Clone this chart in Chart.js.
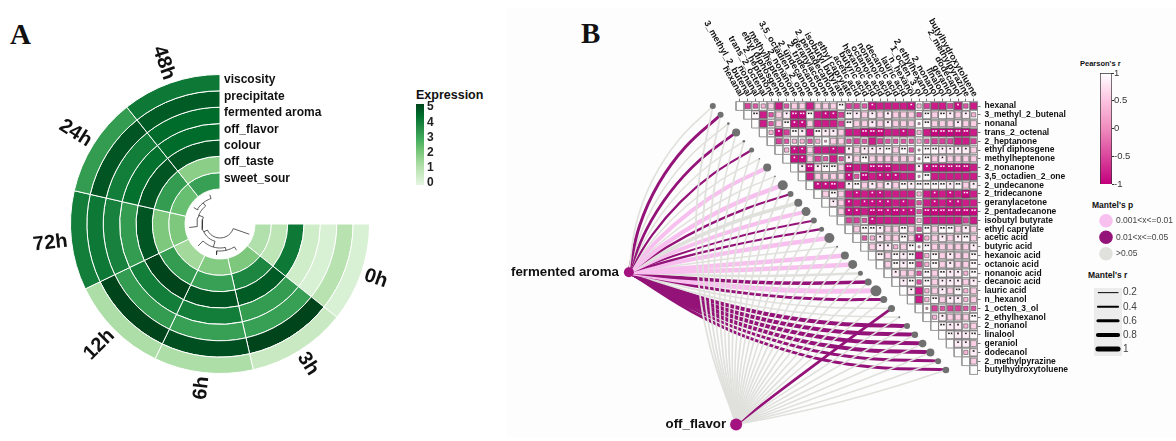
<!DOCTYPE html>
<html>
<head>
<meta charset="utf-8">
<script src="https://cdn.jsdelivr.net/npm/chart.js@4"></script>
<style>
    body { margin: 0; width: 1176px; height: 441px; background: #fff; overflow: hidden; position: relative; font-family: 'Liberation Sans', sans-serif; color: #111; }
    canvas { position: absolute; }
    .txt { position: absolute; white-space: nowrap; font-weight: bold; line-height: 1; }
    .letter { font-family: 'Liberation Serif', serif; font-size: 29px; }
    #panelB { position: absolute; left: 507px; top: 8px; width: 669px; height: 430px; background: #fdfdfd; }
</style>
</head>
<body>
<div id="panelB"></div>
<div class="txt letter" style="left:10px;top:20px">A</div>
<div class="txt letter" style="left:581px;top:19px">B</div>
<div class="txt" style="left:416px;top:89px;font-size:12.5px">Expression</div>
<div class="txt" style="left:1080px;top:60px;font-size:7.5px">Pearson's r</div>
<div class="txt" style="left:1092px;top:201px;font-size:8.5px">Mantel's p</div>
<div class="txt" style="left:1088px;top:271px;font-size:8.5px">Mantel's r</div>

<canvas id="ringChart" width="400" height="400" style="left:20px;top:24px"></canvas>
<canvas id="dendroChart" width="80" height="80" style="left:180px;top:184px"></canvas>
<canvas id="expressionChart" width="40" height="112" style="left:408px;top:89px"></canvas>
<canvas id="linkChart" width="480" height="441" style="left:505px;top:0"></canvas>
<canvas id="heatChart" width="390" height="395" style="left:690px;top:0"></canvas>
<canvas id="pearsonChart" width="80" height="142" style="left:1090px;top:58px"></canvas>
<canvas id="mantelPChart" width="86" height="70" style="left:1090px;top:202px"></canvas>
<canvas id="mantelRChart" width="60" height="88" style="left:1094px;top:278px"></canvas>

<script>
// panel A
var timePoints = ['0h', '3h', '6h', '12h', '72h', '24h', '48h'];
var attributes = ['viscosity', 'precipitate', 'fermented aroma', 'off_flavor', 'colour', 'off_taste', 'sweet_sour'];
var viscosity = [0.3, 0.7, 1.2, 1.2, 3.9, 3.2, 4.0];
var precipitate = [1.0, 5.0, 4.8, 5.0, 4.0, 4.7, 4.6];
var fermentedAroma = [0.3, 3.1, 3.1, 3.2, 3.8, 3.9, 4.3];
var offFlavor = [0.5, 3.2, 3.9, 3.9, 3.2, 4.2, 4.3];
var colour = [4.0, 4.6, 4.7, 5.0, 4.7, 4.7, 4.7];
var offTaste = [0.9, 3.7, 3.1, 3.2, 2.0, 3.2, 1.8];
var sweetSour = [1.1, 2.0, 1.9, 1.4, 2.0, 2.3, 3.1];
var expressionTicks = [0, 1, 2, 3, 4, 5];

// dendrogram merges, in sector positions and radii
var dendroA = [5, 4, 1, 3, 4.75, 0];
var dendroB = [6, 5.5, 2, 1.5, 2.25, 3.5];
var dendroR = [27, 23, 27, 24, 18, 14];
var dendroAr = [31, 31, 31, 31, 23, 31];
var dendroBr = [31, 27, 31, 27, 24, 18];

// panel B
var compounds = ['hexanal', '3_methyl_2_butenal', 'nonanal', 'trans_2_octenal', '2_heptanone', 'ethyl diphosgene', 'methylheptenone', '2_nonanone', '3,5_octadien_2_one', '2_undecanone', '2_tridecanone', 'geranylacetone', '2_pentadecanone', 'isobutyl butyrate', 'ethyl caprylate', 'acetic acid', 'butyric acid', 'hexanoic acid', 'octanoic acid', 'nonanoic acid', 'decanoic acid', 'lauric acid', 'n_hexanol', '1_octen_3_ol', '2_ethylhexanol', '2_nonanol', 'linalool', 'geraniol', 'dodecanol', '2_methylpyrazine', 'butylhydroxytoluene'];

// upper triangle of Pearson's r, row i holds columns i+1 to 30
var pearsonRows = [
    [-.55,-.4,.35,.6,-.8,-.4,.6,.6,-.8,.6,.6,.6,.95,-.55,-.55,-.4,-.9,-.8,-.8,-.8,-.8,-.9,.35,-.55,-.8,-.8,-.55,-.9,-.4,-.8],
    [.95,-.8,-.4,.6,.85,-.97,-.97,.95,-.8,-.9,-.9,-.55,.95,.85,.6,.85,.6,.85,.6,.6,.6,-.4,.95,.6,.95,.85,.6,.85,.35],
    [-.8,-.4,.6,.95,-.9,-.9,.6,-.8,-.8,-.8,-.55,.95,.6,.6,.85,.6,.85,.6,.6,.6,.1,.95,.6,.6,.6,.85,.6,.6],
    [.35,-.9,-.55,.95,.85,-.8,.95,.85,.85,.6,-.8,-.8,-.97,-.97,-.97,-.8,-.8,-.9,-.8,.35,-.8,-.97,-.97,-.97,-.97,-.97,-.8],
    [-.55,-.4,.35,.35,-.4,.35,.1,.6,.6,-.4,-.55,-.4,-.8,-.55,-.4,-.4,-.4,-.4,.35,-.4,-.55,-.55,-.55,-.8,-.8,-.55],
    [.35,-.9,-.9,.6,-.8,-.8,-.9,-.8,.85,.6,.85,.85,.85,.95,.6,.95,-.4,.1,.95,.95,.85,.85,.85,.85,.6],
    [-.9,-.9,.6,-.55,-.4,-.8,-.4,.85,.6,.95,.6,.6,.6,.6,.6,.6,.1,.95,.6,.85,.6,.6,.6,.6],
    [.85,-.97,.85,.95,.95,.6,-.97,-.8,-.8,-.97,-.97,-.97,-.8,-.8,-.8,.85,-.9,-.97,-.97,-.97,-.97,-.97,-.8],
    [-.8,.6,.6,.6,.6,-.9,-.4,-.97,-.8,-.9,-.9,-.9,-.8,-.8,.1,.95,-.8,-.8,-.8,-.8,-.8,-.8],
    [-.9,-.9,-.97,-.8,.85,.95,.6,.85,.6,.85,.6,.95,.85,.95,.95,.95,.95,.85,.95,.6,.85],
    [.6,.95,.6,-.8,-.9,-.8,-.9,-.9,-.8,-.8,-.8,-.8,.35,-.8,-.9,-.8,-.9,-.8,-.97,-.8],
    [.85,.6,-.9,-.8,-.9,-.9,-.9,-.9,-.8,-.9,-.8,-.4,-.8,-.9,-.8,-.9,-.9,-.8,-.8],
    [.6,-.9,-.9,-.8,-.97,-.97,-.9,-.97,-.9,-.9,-.4,-.97,-.97,-.97,-.97,-.97,-.97,-.97],
    [-.55,-.55,-.4,-.9,-.8,-.8,-.8,-.8,-.8,.35,-.8,-.8,-.8,-.8,-.8,-.55,-.8],
    [.6,.95,.95,.85,.6,.6,.95,.6,-.4,.95,.6,.95,.95,.6,.85,.6],
    [-.4,.35,.85,.6,.6,.95,.6,-.9,.35,.6,.85,.6,.85,.95,.6],
    [.6,.85,.85,.35,.6,.95,.1,.95,.6,.6,.6,.6,.6,.85],
    [.95,.6,.95,.85,.95,-.8,.35,.95,.6,.85,.6,.6,.95],
    [.6,.95,.85,.95,-.55,.35,.95,.6,.85,.6,.6,.95],
    [.85,.6,.6,-.4,.95,.6,.95,.85,.85,.35,.95],
    [.85,.95,-.4,.95,.6,.85,.85,.85,.6,.85],
    [.85,-.8,.35,.6,.85,.6,.95,.35,.6],
    [-.8,.35,.95,.6,.85,.85,.35,.6],
    [.1,-.55,-.4,-.55,-.55,-.4,-.4],
    [.35,.85,.6,.6,.6,.95],
    [.95,.85,.85,.35,.6],
    [.95,.85,.85,.95],
    [.85,.85,.6],
    [.35,.85],
    [.6],
    []
];

// Mantel test per compound, p class is an index into mantelPLabels
var mantelPLabels = ['0.001<x<=0.01', '0.01<x<=0.05', '>0.05'];
var mantelRLabels = [0.2, 0.4, 0.6, 0.8, 1];
var aromaP = [2,1,2,1,2,1,2,0,2,0,1,2,0,1,1,0,2,0,0,2,1,0,1,2,2,1,1,1,1,1,1];
var aromaR = [.32,.6,.32,.55,.3,.45,.3,.8,.3,.9,.45,.75,.8,.4,.45,.9,.32,.9,.9,.5,.7,1,.6,.32,.32,.8,.8,.8,.8,.6,.6];
var flavorP = [2,2,2,2,2,2,2,2,2,2,2,2,2,2,2,2,2,2,2,2,2,2,2,1,2,2,2,2,2,2,2];
var flavorR = [.36,.36,.36,.32,.36,.32,.36,.32,.32,.36,.32,.32,.36,.32,.32,.36,.32,.32,.36,.32,.32,.36,.32,.55,.32,.32,.32,.32,.32,.32,.32];
var nodeSizes = [3,3,1.3,4,1.3,2.5,.8,4,.8,5,3,4,4.5,3,2.5,5,1,4,4.5,2.5,3.5,5.5,3.5,3.5,1,3,3.3,3.8,4,3,3.3];
var sourceNames = ['fermented aroma', 'off_flavor'];
var sourceX = [-14.3, -0.5];
var sourceY = [18.9, 36.2];

var pearsonTicks = [-1, -0.5, 0, 0.5, 1];

Chart.defaults.animation = false;
Chart.defaults.font.family = "'Liberation Sans', sans-serif";
Chart.defaults.plugins.legend.display = false;
Chart.defaults.plugins.tooltip.enabled = false;
Chart.defaults.responsive = false;
Chart.defaults.maintainAspectRatio = false;
Chart.defaults.layout.autoPadding = false;

var COL_W = 7.77;
var ROW_H = 8.8;
var HEAT_X = 740;
var HEAT_Y = 106;
var P_COLORS = ['#f7c0ee', '#941378', '#e0e0dc'];
var GREENS = ['#e5f5e0', '#c7e9c0', '#a1d99b', '#74c476', '#41ab5d', '#238b45', '#006d2c', '#00441b'];
var PEARSON_STOPS = [[-1, [196, 0, 124]], [0, [240, 140, 190]], [0.5, [252, 195, 224]], [1, [255, 255, 255]]];

var greenFor = function (value) {
    var pos = value / 5 * (GREENS.length - 1);
    var i = Math.min(Math.floor(pos), GREENS.length - 2);
    var from = parseInt(GREENS[i].slice(1), 16);
    var to = parseInt(GREENS[i + 1].slice(1), 16);
    var t = pos - i;
    var mix = function (shift) {
        return Math.round(((from >> shift) & 255) * (1 - t) + ((to >> shift) & 255) * t);
    };
    return 'rgb(' + mix(16) + ',' + mix(8) + ',' + mix(0) + ')';
};

var pearsonColor = function (r) {
    for (var i = 0; i < PEARSON_STOPS.length - 1; i++) {
        var a = PEARSON_STOPS[i];
        var b = PEARSON_STOPS[i + 1];
        if (r <= b[0]) {
            var t = (r - a[0]) / (b[0] - a[0]);
            return 'rgb(' + a[1].map(function (c, k) { return Math.round(c + (b[1][k] - c) * t); }).join(',') + ')';
        }
    }
    return '#fff';
};

// sector labels and ring labels for the circular heatmap
var ringLabels = {
    id: 'ringLabels',
    afterDraw: function (chart) {
        var ctx = chart.ctx;
        ctx.save();
        ctx.fillStyle = '#111';
        ctx.font = "bold 20px 'Liberation Sans'";
        ctx.textBaseline = 'middle';
        chart.getDatasetMeta(0).data.forEach(function (arc, i) {
            var angle = (arc.startAngle + arc.endAngle) / 2;
            var flip = Math.cos(angle) < 0;
            ctx.save();
            ctx.translate(arc.x + (arc.outerRadius + 4) * Math.cos(angle), arc.y + (arc.outerRadius + 4) * Math.sin(angle));
            ctx.rotate(flip ? angle + Math.PI : angle);
            ctx.textAlign = flip ? 'right' : 'left';
            ctx.fillText(timePoints[i], 0, 0);
            ctx.restore();
        });
        ctx.font = "bold 12px 'Liberation Sans'";
        ctx.textAlign = 'left';
        attributes.forEach(function (name, i) {
            var arc = chart.getDatasetMeta(i).data[6];
            ctx.fillText(name, arc.x + 4, arc.y - (arc.innerRadius + arc.outerRadius) / 2 - 2.5);
        });
        ctx.restore();
    }
};

var ringRows = [viscosity, precipitate, fermentedAroma, offFlavor, colour, offTaste, sweetSour];

new Chart(document.getElementById('ringChart'), {
    type: 'doughnut',
    data: {
        labels: timePoints,
        datasets: ringRows.map(function (row, i) {
            return {
                label: attributes[i],
                data: row.map(function () { return 1; }),
                backgroundColor: row.map(greenFor),
                borderColor: '#fff',
                borderWidth: 1,
                borderAlign: 'center'
            };
        })
    },
    options: {
        rotation: 90,
        circumference: 270,
        cutout: 35,
        layout: { padding: 50 }
    },
    plugins: [ringLabels]
});

// dendrogram in the hole of the ring chart
var polar = function (pos, r) {
    var a = (19.29 + 38.57 * pos) * Math.PI / 180;
    return { x: r * Math.cos(a), y: -r * Math.sin(a) };
};

var dendroPoints = [];
dendroR.forEach(function (r, m) {
    var a = dendroA[m];
    var b = dendroB[m];
    dendroPoints.push(polar(a, dendroAr[m]));
    for (var k = 0; k <= 12; k++) {
        dendroPoints.push(polar(a + (b - a) * k / 12, r));
    }
    dendroPoints.push(polar(b, dendroBr[m]));
    dendroPoints.push({ x: NaN, y: NaN });
});

new Chart(document.getElementById('dendroChart'), {
    type: 'scatter',
    data: {
        datasets: [{
            data: dendroPoints,
            showLine: true,
            borderColor: '#333',
            borderWidth: 0.8,
            pointRadius: 0
        }]
    },
    options: {
        scales: {
            x: { display: false, bounds: 'data', min: -40, max: 40 },
            y: { display: false, bounds: 'data', min: -40, max: 40 }
        }
    }
});

// vertical gradient for the colour bars
var barGradient = function (context, stops) {
    var area = context.chart.chartArea;
    if (!area) {
        return null;
    }
    var gradient = context.chart.ctx.createLinearGradient(0, area.bottom, 0, area.top);
    stops.forEach(function (s) {
        gradient.addColorStop(s[0], s[1]);
    });
    return gradient;
};

new Chart(document.getElementById('expressionChart'), {
    type: 'bar',
    data: {
        labels: ['Expression'],
        datasets: [{
            data: [[-0.13, 5.2]],
            barPercentage: 1,
            categoryPercentage: 1,
            backgroundColor: function (context) {
                return barGradient(context, GREENS.map(function (c, i) { return [i / (GREENS.length - 1), c]; }));
            }
        }]
    },
    options: {
        layout: { padding: { left: 8, top: 15, bottom: 16 } },
        scales: {
            x: { display: false },
            y: {
                position: 'right',
                bounds: 'data',
                min: -0.13,
                max: 5.2,
                afterBuildTicks: function (scale) {
                    scale.ticks = expressionTicks.map(function (v) { return { value: v }; });
                },
                afterFit: function (scale) { scale.width = 24; },
                grid: { drawOnChartArea: false, drawTicks: false },
                border: { display: false },
                ticks: { autoSkip: false, padding: 3, color: '#222', font: { size: 12, weight: 'bold' } }
            }
        }
    }
});

// links between the two sensory traits and every compound
var sourceLabels = {
    id: 'sourceLabels',
    afterDraw: function (chart) {
        var ctx = chart.ctx;
        ctx.save();
        ctx.fillStyle = '#111';
        ctx.font = "bold 13.3px 'Liberation Sans'";
        ctx.textAlign = 'right';
        ctx.textBaseline = 'middle';
        sourceNames.forEach(function (name, i) {
            ctx.fillText(name, chart.scales.x.getPixelForValue(sourceX[i]) - 10, chart.scales.y.getPixelForValue(sourceY[i]));
        });
        ctx.restore();
    }
};

var nodeX = function (j) { return j - 3.5; };

// a point along a link, pushed sideways so that the line bows
var bowPoint = function (fromX, fromY, j, bow, t) {
    var dx = (nodeX(j) - fromX) * COL_W;
    var dy = (j - fromY) * ROW_H;
    var push = bow * 4 * t * (1 - t);
    return {
        x: fromX + (nodeX(j) - fromX) * t + dy * push / COL_W,
        y: fromY + (j - fromY) * t - dx * push / ROW_H
    };
};

var linkSets = function (src, pClass, rValue, bowAt, drawOrder) {
    return pClass.map(function (p, j) {
        var fromX = sourceX[src];
        var fromY = sourceY[src];
        return {
            data: [
                { x: fromX, y: fromY },
                bowPoint(fromX, fromY, j, bowAt(j), 0.25),
                bowPoint(fromX, fromY, j, bowAt(j), 0.5),
                bowPoint(fromX, fromY, j, bowAt(j), 0.75),
                { x: nodeX(j), y: j }
            ],
            showLine: true,
            tension: 0.4,
            borderColor: P_COLORS[p],
            borderWidth: rValue[j] * 5,
            borderCapStyle: 'butt',
            pointRadius: 0,
            order: drawOrder
        };
    });
};

var linkDatasets = linkSets(0, aromaP, aromaR, function (j) { return 0.11 - 0.0065 * j; }, 5)
    .concat(linkSets(1, flavorP, flavorR, function (j) { return 0.085 - 0.0035 * j; }, 4));

linkDatasets.push({
    data: compounds.map(function (name, j) { return { x: nodeX(j), y: j }; }),
    pointRadius: nodeSizes,
    pointBackgroundColor: '#707070',
    pointBorderWidth: 0,
    order: 1
});
linkDatasets.push({
    data: sourceX.map(function (x, i) { return { x: x, y: sourceY[i] }; }),
    pointRadius: [5, 6],
    pointBackgroundColor: '#a3127f',
    pointBorderWidth: 0,
    order: 1
});

new Chart(document.getElementById('linkChart'), {
    type: 'scatter',
    data: { datasets: linkDatasets },
    options: {
        scales: {
            x: { display: false, bounds: 'data', min: (505 - HEAT_X) / COL_W, max: (985 - HEAT_X) / COL_W },
            y: { display: false, bounds: 'data', reverse: true, min: (0 - HEAT_Y) / ROW_H, max: (441 - HEAT_Y) / ROW_H }
        }
    },
    plugins: [sourceLabels]
});

// correlation triangle
var gridPoints = [];
var squares = [];
var lightStars = [];
var darkStars = [];
var gap = { x: NaN, y: NaN };
compounds.forEach(function (name, i) {
    gridPoints.push({ x: i - 0.5, y: i - 0.5 }, { x: 30.5, y: i - 0.5 }, gap);
    gridPoints.push({ x: i - 0.5, y: i + 0.5 }, { x: 30.5, y: i + 0.5 }, gap);
    gridPoints.push({ x: i - 0.5, y: -0.5 }, { x: i - 0.5, y: i + 0.5 }, gap);
    gridPoints.push({ x: i + 0.5, y: -0.5 }, { x: i + 0.5, y: i + 0.5 }, gap);
    pearsonRows[i].forEach(function (r, k) {
        var j = i + 1 + k;
        squares.push({ x: j, y: i, r: r });
        var target = r < 0 ? lightStars : darkStars;
        if (Math.abs(r) >= 0.95) {
            target.push({ x: j - 0.17, y: i - 0.16 }, { x: j + 0.17, y: i - 0.16 });
        } else if (Math.abs(r) >= 0.85) {
            target.push({ x: j, y: i - 0.16 });
        }
    });
});

var columnLabels = {
    id: 'columnLabels',
    afterDraw: function (chart) {
        var ctx = chart.ctx;
        var x = chart.scales.x;
        ctx.save();
        ctx.fillStyle = '#111';
        ctx.font = "bold 9px 'Liberation Sans'";
        ctx.textAlign = 'right';
        ctx.textBaseline = 'middle';
        compounds.forEach(function (name, j) {
            ctx.save();
            ctx.translate(x.getPixelForValue(j) + 1.5, 96);
            ctx.rotate(Math.PI / 3);
            ctx.fillText(name, 0, 0);
            ctx.restore();
        });
        ctx.restore();
    }
};

var indexTicks = function (scale) {
    scale.ticks = compounds.map(function (name, i) { return { value: i }; });
};

new Chart(document.getElementById('heatChart'), {
    type: 'scatter',
    data: {
        datasets: [
            { data: darkStars, pointStyle: 'star', pointRadius: 0.9, pointBorderColor: '#111', pointBorderWidth: 0.6, order: 0 },
            { data: lightStars, pointStyle: 'star', pointRadius: 0.9, pointBorderColor: '#fff', pointBorderWidth: 0.6, order: 0 },
            {
                data: squares,
                pointStyle: 'rect',
                pointRadius: squares.map(function (s) { return 8 * Math.pow(Math.abs(s.r), 0.6) / 2 / Math.SQRT1_2; }),
                pointBackgroundColor: squares.map(function (s) { return pearsonColor(s.r); }),
                pointBorderColor: '#555',
                pointBorderWidth: 0.6,
                order: 1
            },
            { data: gridPoints, showLine: true, spanGaps: false, borderColor: '#999', borderWidth: 1, pointRadius: 0, clip: false, order: 2 }
        ]
    },
    options: {
        layout: { padding: { left: 46, top: 98.6, bottom: 20.6 } },
        scales: {
            x: {
                position: 'top',
                bounds: 'data',
                min: -0.5,
                max: 30.5,
                afterBuildTicks: indexTicks,
                afterFit: function (scale) { scale.height = 3; },
                border: { display: false },
                grid: { drawOnChartArea: false, tickLength: 3, color: '#777' },
                ticks: { display: false, autoSkip: false }
            },
            y: {
                position: 'right',
                bounds: 'data',
                reverse: true,
                min: -0.5,
                max: 30.5,
                afterBuildTicks: indexTicks,
                afterFit: function (scale) { scale.width = 102.5; },
                border: { display: false },
                grid: { drawOnChartArea: false, tickLength: 3, color: '#777' },
                ticks: {
                    autoSkip: false,
                    padding: 4,
                    color: '#111',
                    font: { size: 8.5, weight: 'bold' },
                    callback: function (value) { return compounds[value]; }
                }
            }
        }
    },
    plugins: [columnLabels]
});

// legends of panel B
new Chart(document.getElementById('pearsonChart'), {
    type: 'bar',
    data: {
        labels: ["Pearson's r"],
        datasets: [{
            data: [[-1, 1]],
            barPercentage: 1,
            categoryPercentage: 1,
            borderColor: '#333',
            borderWidth: 1,
            backgroundColor: function (context) {
                return barGradient(context, PEARSON_STOPS.map(function (s) {
                    return [(s[0] + 1) / 2, 'rgb(' + s[1].join(',') + ')'];
                }));
            }
        }]
    },
    options: {
        layout: { padding: { left: 10, top: 15, bottom: 16 } },
        scales: {
            x: { display: false },
            y: {
                position: 'right',
                bounds: 'data',
                min: -1,
                max: 1,
                afterBuildTicks: function (scale) {
                    scale.ticks = pearsonTicks.map(function (v) { return { value: v }; });
                },
                afterFit: function (scale) { scale.width = 58; },
                border: { display: false },
                grid: { drawOnChartArea: false, tickLength: 2, color: '#333' },
                ticks: {
                    autoSkip: false,
                    padding: 0,
                    color: '#333',
                    font: { size: 9.5 },
                    callback: function (value) { return String(value); }
                }
            }
        }
    }
});

new Chart(document.getElementById('mantelPChart'), {
    type: 'scatter',
    data: {
        datasets: [{
            data: mantelPLabels.map(function (label, i) { return { x: 0, y: i }; }),
            pointRadius: 6.8,
            pointBorderWidth: 0,
            pointBackgroundColor: P_COLORS,
            clip: false
        }]
    },
    options: {
        layout: { padding: { left: 8, top: 10.5, bottom: 10 } },
        scales: {
            x: { display: false, bounds: 'data', min: -1, max: 1 },
            y: {
                position: 'right',
                bounds: 'data',
                reverse: true,
                min: -0.5,
                max: 2.5,
                afterBuildTicks: function (scale) {
                    scale.ticks = mantelPLabels.map(function (label, i) { return { value: i }; });
                },
                afterFit: function (scale) { scale.width = 62; },
                border: { display: false },
                grid: { drawOnChartArea: false, drawTicks: false },
                ticks: {
                    autoSkip: false,
                    padding: 2,
                    color: '#444',
                    font: { size: 8.5 },
                    callback: function (value) { return mantelPLabels[value]; }
                }
            }
        }
    }
});

var panelFill = {
    id: 'panelFill',
    beforeDraw: function (chart) {
        var area = chart.chartArea;
        chart.ctx.fillStyle = '#ececec';
        chart.ctx.fillRect(area.left, area.top, area.right - area.left, area.bottom - area.top);
    }
};

new Chart(document.getElementById('mantelRChart'), {
    type: 'scatter',
    data: {
        datasets: mantelRLabels.map(function (r, i) {
            return {
                data: [{ x: 0.14, y: i }, { x: 0.86, y: i }],
                showLine: true,
                borderColor: '#000',
                borderWidth: r * 5,
                borderCapStyle: 'round',
                pointRadius: 0
            };
        })
    },
    options: {
        layout: { padding: { top: 10, bottom: 10 } },
        scales: {
            x: { display: false, bounds: 'data', min: 0, max: 1 },
            y: {
                position: 'right',
                bounds: 'data',
                reverse: true,
                min: -0.33,
                max: 4.49,
                afterBuildTicks: function (scale) {
                    scale.ticks = mantelRLabels.map(function (r, i) { return { value: i }; });
                },
                afterFit: function (scale) { scale.width = 32; },
                border: { display: false },
                grid: { drawOnChartArea: false, drawTicks: false },
                ticks: {
                    autoSkip: false,
                    padding: 1,
                    color: '#444',
                    font: { size: 10 },
                    callback: function (value) { return String(mantelRLabels[value]); }
                }
            }
        }
    },
    plugins: [panelFill]
});
</script>
</body>
</html>
